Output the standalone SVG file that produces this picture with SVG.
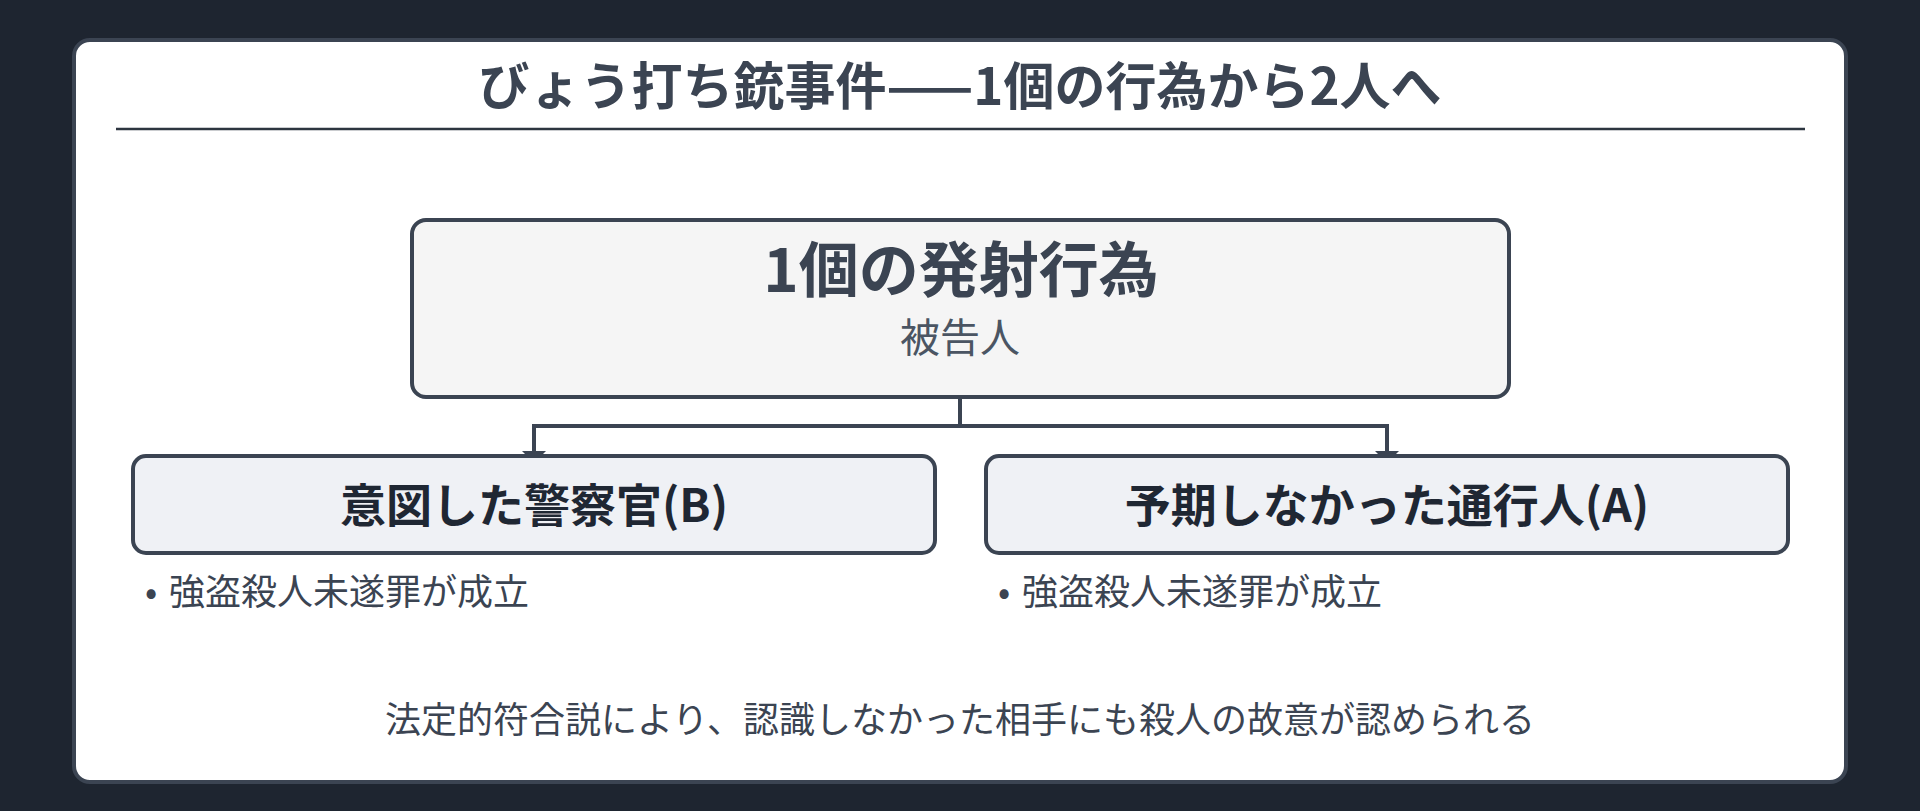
<svg xmlns="http://www.w3.org/2000/svg" width="1920" height="811" viewBox="0 0 1920 811">
<defs>
<style>
text{font-family:"Noto Sans CJK JP","Noto Sans",sans-serif;}
.title{font-size:51px;font-weight:700;fill:#3b4452;text-anchor:middle;}
.main{font-size:60px;font-weight:700;fill:#3b4452;text-anchor:middle;}
.sub{font-size:40px;font-weight:400;fill:#4b5563;text-anchor:middle;}
.child{font-size:46px;font-weight:700;fill:#1f2733;text-anchor:middle;}
.bul{font-size:36px;font-weight:400;fill:#3b4452;}
.note{font-size:36px;font-weight:400;fill:#3b4452;text-anchor:middle;}
.box{stroke:#3b4452;stroke-width:4;}
.conn{fill:none;stroke:#3b4452;stroke-width:4;}
</style>
<marker id="arr" viewBox="0 0 12 24" refX="12" refY="12" markerWidth="12" markerHeight="24" orient="auto" markerUnits="userSpaceOnUse">
<path d="M0,0 L12,12 L0,24 z" fill="#3b4452"/>
</marker>
</defs>
<rect x="0" y="0" width="1920" height="811" fill="#1e2530"/>
<g id="card">
<rect x="74" y="40" width="1772" height="742" rx="16" fill="#ffffff" stroke="#3b4452" stroke-width="4"/>
<text class="title" x="960" y="105">びょう打ち銃事件——1個の行為から2人へ</text>
<line x1="116" y1="129" x2="1805" y2="129" stroke="#2d3540" stroke-width="2.5"/>
</g>
<g id="connectors">
<path class="conn" d="M960,397 V426 H534 V463" marker-end="url(#arr)"/>
<path class="conn" d="M960,426 H1387 V463" marker-end="url(#arr)"/>
</g>
<g id="act">
<rect class="box" x="412" y="220" width="1097" height="177" rx="14" fill="#f5f5f5"/>
<text class="main" x="961" y="292">1個の発射行為</text>
<text class="sub" x="960" y="352">被告人</text>
</g>
<g id="officer">
<rect class="box" x="133" y="456" width="802" height="97" rx="13" fill="#eff1f5"/>
<text class="child" x="534" y="522">意図した警察官(B)</text>
<text class="bul" x="151" y="605" text-anchor="middle">•</text>
<text class="bul" x="169" y="605">強盗殺人未遂罪が成立</text>
</g>
<g id="passerby">
<rect class="box" x="986" y="456" width="802" height="97" rx="13" fill="#eff1f5"/>
<text class="child" x="1387" y="522">予期しなかった通行人(A)</text>
<text class="bul" x="1004" y="605" text-anchor="middle">•</text>
<text class="bul" x="1022" y="605">強盗殺人未遂罪が成立</text>
</g>
<g id="note">
<text class="note" x="960" y="733">法定的符合説により、認識しなかった相手にも殺人の故意が認められる</text>
</g>
</svg>
